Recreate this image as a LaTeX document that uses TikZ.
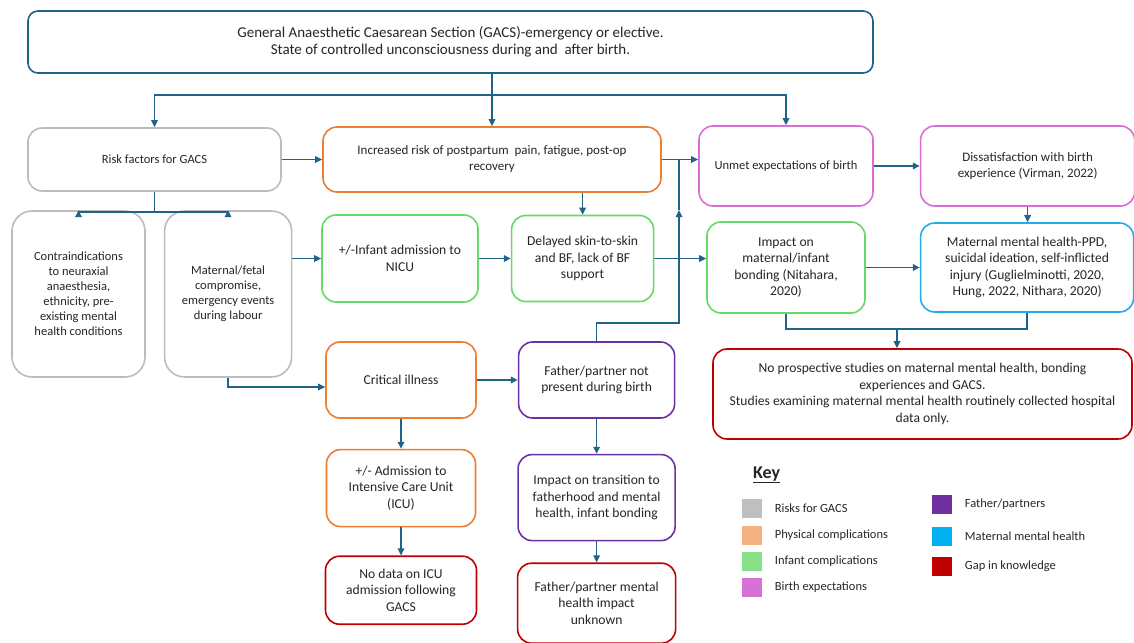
\documentclass[tikz,border=0pt]{standalone}
\usepackage{fontspec}
\setmainfont{Carlito}
\setsansfont{Carlito}
\usetikzlibrary{arrows.meta, positioning, calc}
\definecolor{clink}{HTML}{1F6389}
\definecolor{cgrey}{HTML}{BCBCBC}
\definecolor{corange}{HTML}{ED7D31}
\definecolor{cgreen}{HTML}{66D966}
\definecolor{cpink}{HTML}{D96FD6}
\definecolor{cpurple}{HTML}{7030A0}
\definecolor{ccyan}{HTML}{1FAEEA}
\definecolor{cred}{HTML}{C00000}
\definecolor{ctext}{HTML}{262626}
\definecolor{kgrey}{HTML}{BFBFBF}
\definecolor{korange}{HTML}{F4B183}
\definecolor{kgreen}{HTML}{88E088}
\definecolor{kpink}{HTML}{D771D4}
\definecolor{kcyan}{HTML}{00B0F0}
\tikzset{
  every picture/.style={font=\sffamily\fontsize{13.6}{16.5}\selectfont, line width=1.6pt},
  box/.style={draw=#1, fill=white, text=ctext, rounded corners=14pt, align=center, inner sep=2pt},
  box/.default=cgrey,
  arrow/.style={-{Triangle[length=7pt, width=6.5pt]}, draw=clink, line width=1.6pt},
  link/.style={draw=clink, line width=1.6pt},
  smalltext/.style={font=\sffamily\fontsize{12.5}{15}\selectfont},
  midtext/.style={font=\sffamily\fontsize{13}{16}\selectfont},
  keysq/.style={fill=#1, minimum width=20pt, minimum height=19pt, inner sep=0pt},
  keytext/.style={font=\sffamily\fontsize{12.5}{15}\selectfont, text=ctext},
}

\begin{document}
\begin{tikzpicture}[x=1pt, y=-1pt]
  \useasboundingbox (0,0) rectangle (1134,642);
  % top row
  \node[box=clink, minimum width=845pt, minimum height=62pt, rounded corners=10pt, font=\sffamily\fontsize{15}{17}\selectfont] (gacs) at (450.5,42) {General Anaesthetic Caesarean Section (GACS)-emergency or elective.\\ State of controlled unconsciousness during and \ after birth.};
  \node[box=cgrey, smalltext, minimum width=253pt, minimum height=63pt] (risk) at (154.5,159.5) {Risk factors for GACS};
  \node[box=corange, midtext, minimum width=338pt, minimum height=65pt] (incr) at (492,159.5) {Increased risk of postpartum \ pain, fatigue, post-op\\ recovery};
  \node[box=cpink, smalltext, minimum width=174pt, minimum height=80pt] (unmet) at (786,166) {Unmet expectations of birth};
  \node[box=cpink, midtext, right=46pt of unmet, minimum width=214pt, minimum height=80pt] (dissat) {Dissatisfaction with birth\\ experience (Virman, 2022)};
  % risk factors
  \node[box=cgrey, smalltext, minimum width=133pt, minimum height=166pt, rounded corners=20pt] (contra) at (78.5,294) {Contraindications\\ to neuraxial\\ anaesthesia,\\ ethnicity, pre-\\ existing mental\\ health conditions};
  \node[box=cgrey, smalltext, right=18pt of contra, minimum width=127pt, minimum height=166pt, rounded corners=20pt] (matfet) {Maternal/fetal\\ compromise,\\ emergency events\\ during labour};
  % infant row
  \node[box=cgreen, minimum width=156pt, minimum height=87pt] (nicu) at (400,258.5) {+/-Infant admission to\\ NICU};
  \node[box=cgreen, right=32pt of nicu, minimum width=142pt, minimum height=86pt] (delay) {Delayed skin-to-skin\\ and BF, lack of BF\\ support};
  \node[box=cgreen, minimum width=158pt, minimum height=91pt] (bond) at (786,267.5) {Impact on\\ maternal/infant\\ bonding (Nitahara,\\ 2020)};
  \node[box=ccyan, right=54pt of bond, minimum width=213pt, minimum height=89pt] (mmh) {Maternal mental health-PPD,\\ suicidal ideation, self-inflicted\\ injury (Guglielminotti, 2020,\\ Hung, 2022, Nithara, 2020)};
  \node[box=cred, minimum width=419pt, minimum height=90pt] (gap) at (922.5,394) {No prospective studies on maternal mental health, bonding\\ experiences and GACS.\\ Studies examining maternal mental health routinely collected hospital\\ data only.};
  % critical illness branch
  \node[box=corange, minimum width=150pt, minimum height=76pt] (crit) at (401,380) {Critical illness};
  \node[box=corange, below=30pt of crit, minimum width=149pt, minimum height=77pt] (icu) {+/- Admission to\\ Intensive Care Unit\\ (ICU)};
  \node[box=cred, below=28pt of icu, minimum width=151pt, minimum height=68pt] (nodata) {No data on ICU\\ admission following\\ GACS};
  % father branch
  \node[box=cpurple, right=41pt of crit, minimum width=156pt, minimum height=76pt] (father) {Father/partner not\\ present during birth};
  \node[box=cpurple, below=35pt of father, minimum width=157pt, minimum height=86pt] (trans) {Impact on transition to\\ fatherhood and mental\\ health, infant bonding};
  \node[box=cred, below=21pt of trans, minimum width=158pt, minimum height=80pt] (fmh) {Father/partner mental\\ health impact\\ unknown};

  % connectors
  \coordinate (split) at (492,95);
  \draw[arrow] (incr.north |- gacs.south) -- (incr.north);
  \draw[arrow] (split) -| (risk.north);
  \draw[arrow] (split) -| (unmet.north);
  \draw[arrow] (risk) -- (incr);
  \draw[arrow] (incr.east) -- (incr.east -| unmet.west);
  \draw[arrow] (unmet) -- (dissat);
  \draw[arrow] (dissat.south) -- (dissat.south |- mmh.north);
  \draw[arrow] (risk.south) -- ++(0,20) -| (contra.north);
  \draw[arrow] (risk.south) -- ++(0,20) -| (matfet.north);
  \draw[arrow] (matfet.east |- nicu.west) -- (nicu.west);
  \draw[arrow] (matfet.south) |- ([yshift=-7pt]crit.west);
  \draw[arrow] (nicu) -- (delay);
  \draw[arrow] (incr.south -| delay.north) -- (delay.north);
  \draw[arrow] (delay.east) -- (delay.east -| bond.west);
  \draw[arrow] (bond) -- (mmh);
  \coordinate (join) at (897,329);
  \draw[link] (bond.south) |- (join) -| (mmh.south);
  \draw[arrow] (join) -- (join |- gap.north);
  \draw[arrow] (crit) -- (father);
  \draw[arrow] (crit) -- (icu);
  \draw[arrow] (icu) -- (nodata);
  \draw[arrow] (father) -- (trans);
  \draw[arrow] (trans) -- (fmh);
  \coordinate (bend) at (679,323);
  \coordinate (mid) at (679,210);
  \draw[arrow] (father.north) |- (bend) -- (mid);
  \draw[link] (mid) -- (mid |- incr.east);

  % key
  \node[font=\sffamily\bfseries\fontsize{18}{20}\selectfont, text=ctext, anchor=west] (key) at (749,475) {\underline{Key}};
  \node[keysq=kgrey] (k1) at (752,508.5) {};
  \node[keysq=korange] (k2) at (752,535.5) {};
  \node[keysq=kgreen] (k3) at (752,561.5) {};
  \node[keysq=kpink] (k4) at (752,587.5) {};
  \node[keysq=cpurple] (k5) at (942,504.5) {};
  \node[keysq=kcyan] (k6) at (942,536.5) {};
  \node[keysq=cred] (k7) at (942,566.5) {};
  \node[keytext, right=8pt of k1] {Risks for GACS};
  \node[keytext, right=8pt of k2] {Physical complications};
  \node[keytext, right=8pt of k3] {Infant complications};
  \node[keytext, right=8pt of k4] {Birth expectations};
  \node[keytext, right=8pt of k5] {Father/partners};
  \node[keytext, right=8pt of k6] {Maternal mental health};
  \node[keytext, right=8pt of k7] {Gap in knowledge};
\end{tikzpicture}
\end{document}
